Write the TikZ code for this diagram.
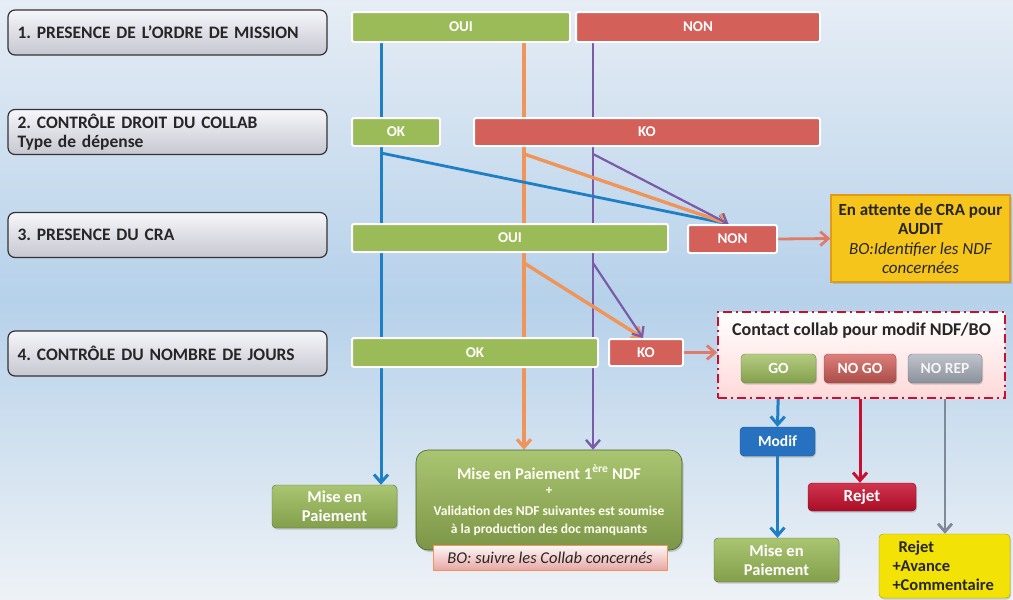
\documentclass[tikz,border=0pt]{standalone}
\usepackage{fontspec}
\setmainfont{Carlito}
\frenchspacing
\usetikzlibrary{arrows.meta,shadows,calc}
\pgfdeclarelayer{bg}\pgfdeclarelayer{lines}
\pgfsetlayers{bg,lines,main}
\definecolor{bgtop}{HTML}{E6EDF5}
\definecolor{bgmid}{HTML}{B6D1EA}
\definecolor{bgbot}{HTML}{EEF2F6}
\definecolor{cgreen}{HTML}{9BBB59}
\definecolor{cred}{HTML}{D4605A}
\definecolor{gray1}{HTML}{F6F6FA}
\definecolor{gray2}{HTML}{C6C7D0}
\definecolor{dkgray}{HTML}{333333}
\definecolor{cblue}{HTML}{1F7FC4}
\definecolor{corange}{HTML}{F0955A}
\definecolor{cpurple}{HTML}{7A5BA8}
\definecolor{csalmon}{HTML}{E07B6A}
\definecolor{cgrayl}{HTML}{7F8A99}
\definecolor{cdred}{HTML}{C8102E}
\definecolor{cyel}{HTML}{F6C51B}
\definecolor{cyelb}{HTML}{E39A1A}
\definecolor{cyel2}{HTML}{F2E205}
\definecolor{cmodif}{HTML}{2672C0}
\definecolor{cnorep}{HTML}{A3AAB6}
\tikzset{
  stepq/.style={draw=dkgray, line width=1.2pt, rounded corners=7pt,
    top color=gray1, bottom color=gray2, minimum height=45pt, minimum width=319pt,
    text width=300pt, align=left, inner sep=0pt,
    font=\bfseries\fontsize{17.5}{19}\selectfont, text=black!85},
  ans/.style={draw=white, line width=2pt, rounded corners=2pt, text=white,
    font=\bfseries\fontsize{15}{17}\selectfont, inner sep=0pt,
    drop shadow={opacity=0.25, shadow xshift=1pt, shadow yshift=-1pt}},
  gbox/.style={ans, fill=cgreen},
  rbox/.style={ans, fill=cred},
  btn/.style={rounded corners=4pt, inner sep=0pt, text=white,
    font=\bfseries\fontsize{15.5}{17}\selectfont, minimum height=29pt,
    drop shadow={opacity=0.35, shadow xshift=1pt, shadow yshift=-1.5pt}},
  tip/.style={-{Straight Barb[length=8pt,width=14pt]}},
  ln/.style={line width=2.8pt, tip},
}
\begin{document}
\begin{tikzpicture}[x=1pt,y=-1pt]
\useasboundingbox (0,0) rectangle (1013,600);
\begin{pgfonlayer}{bg}
\fill[top color=bgtop, bottom color=bgmid] (0,0) rectangle (1013,300);
\fill[top color=bgmid, bottom color=bgbot] (0,300) rectangle (1013,600);
\end{pgfonlayer}

% question boxes
\node[stepq] (q1) at (167.5,32.5) {1. PRESENCE DE L'ORDRE DE MISSION};
\node[stepq] (q2) at (167.5,132) {2. CONTRÔLE DROIT DU COLLAB\\Type de dépense};
\node[stepq] (q3) at (167.5,235) {3. PRESENCE DU CRA};
\node[stepq] (q4) at (167.5,353.5) {4. CONTRÔLE DU NOMBRE DE JOURS};

% answers
\node[gbox, minimum width=218pt, minimum height=30pt] (oui1) at (461,27) {OUI};
\node[rbox, minimum width=244pt, minimum height=30pt] (non1) at (698,27) {NON};
\node[gbox, minimum width=88pt, minimum height=28pt] (ok2) at (396,132) {OK};
\node[rbox, minimum width=346pt, minimum height=28pt] (ko2) at (647,132) {KO};
\node[gbox, minimum width=316pt, minimum height=28pt] (oui3) at (510,238) {OUI};
\node[rbox, minimum width=89pt, minimum height=28pt] (non3) at (732.5,239) {NON};
\node[gbox, minimum width=246pt, minimum height=29pt] (ok4) at (475,352.5) {OK};
\node[rbox, minimum width=74pt, minimum height=27pt] (ko4) at (646,352.5) {KO};

% yellow audit box
\node[draw=cyelb, line width=1.2pt, fill=cyel, minimum width=179pt, minimum height=87pt,
  inner sep=0pt, align=center, font=\fontsize{17}{19.5}\selectfont, text=black!85,
  drop shadow={opacity=0.3, shadow xshift=1.5pt, shadow yshift=-1.5pt}] (audit) at (920.5,238.5)
  {\textbf{En attente de CRA pour}\\\textbf{AUDIT}\\\textit{BO:Identifier les NDF}\\\textit{concernées}};

% contact box
\node[draw=cdred, line width=2pt, dash pattern=on 9pt off 4pt on 2pt off 4pt,
  top color=white, bottom color=pink!60!white, minimum width=287pt, minimum height=86pt,
  inner sep=0pt] (contact) at (861.5,355) {};
\node[font=\bfseries\fontsize{18}{20}\selectfont, text=black!85, inner sep=0pt] (ctitle) at (861.5,331) {Contact collab pour modif NDF/BO};
\node[btn, top color=cgreen!75!white, bottom color=cgreen!85!black, draw=cgreen!70!black, minimum width=75pt] (go) at (778.5,368.5) {GO};
\node[btn, top color=cred!80!white, bottom color=cred!80!black, draw=cred!70!black, minimum width=72pt] (nogo) at (860,368.5) {NO GO};
\node[btn, top color=cnorep!70!white, bottom color=cnorep!85!black, draw=cnorep!70!black, minimum width=74pt, text=white!92!gray] (norep) at (945,368.5) {NO REP};

% outcome boxes
\node[btn, fill=cmodif, draw=cmodif!70!black, minimum width=75pt] (modif) at (777.5,441.5) {Modif};
\node[btn, top color=cgreen!85!white, bottom color=cgreen!85!black, draw=cgreen!60!black,
  minimum width=125pt, minimum height=43pt, align=center, font=\bfseries\fontsize{16.5}{19}\selectfont] (miseL) at (334.5,506.5) {Mise en\\Paiement};
\node[btn, top color=cgreen!85!white, bottom color=cgreen!85!black, draw=cgreen!60!black,
  minimum width=125pt, minimum height=44pt, align=center, font=\bfseries\fontsize{16.5}{19}\selectfont] (miseR) at (776.5,560) {Mise en\\Paiement};
\node[btn, top color=cdred!85!white, bottom color=cdred!85!black, draw=cdred!60!black,
  minimum width=108pt, minimum height=28pt, font=\bfseries\fontsize{17}{19}\selectfont] (rejet) at (862,497) {Rejet};
\node[btn, fill=cyel2, draw=cyel2!70!black, minimum width=131pt, minimum height=64pt,
  text=black!85, align=left, font=\bfseries\fontsize{16.5}{19}\selectfont, text width=104pt] (rejet2) at (944.5,566)
  {\hspace*{6pt}Rejet\\+Avance\\+Commentaire};
\node[rounded corners=12pt, top color=cgreen!85!white, bottom color=cgreen!80!black,
  draw=cgreen!50!black, line width=0.6pt, minimum width=266pt, minimum height=100pt, inner sep=0pt,
  drop shadow={opacity=0.35, shadow xshift=1.5pt, shadow yshift=-2pt}] (big) at (549,500) {};
\node[text=white!95!yellow, font=\bfseries\fontsize{16.5}{19}\selectfont, inner sep=0pt] (bigt1) at (549,472) {Mise en Paiement 1\textsuperscript{ère} NDF};
\node[text=white!95!yellow, font=\bfseries\fontsize{13}{15}\selectfont, inner sep=0pt] (bigt2) at (549,491) {+};
\node[text=white!95!yellow, font=\bfseries\fontsize{13.5}{18.5}\selectfont, inner sep=0pt, align=center] (bigt3) at (549,521) {Validation des NDF suivantes est soumise\\à la production des doc manquants};
\node[draw=corange, line width=1pt, top color=white!90!pink, bottom color=cred!55!white,
  minimum width=234pt, minimum height=25pt, inner sep=0pt, text=black!85,
  font=\itshape\fontsize{16.5}{18}\selectfont] (bosub) at (550,557.5) {BO: suivre les Collab concernés};

% guide x positions
\coordinate (xb) at (381,0);
\coordinate (xo) at (524,0);
\coordinate (xp) at (593,0);

\begin{pgfonlayer}{lines}
% verticals
\draw[ln, cblue, line width=3pt] (oui1.south -| xb) -- (miseL.north -| xb);
\draw[ln, corange, line width=3.2pt] (oui1.south -| xo) -- (big.north -| xo);
\draw[ln, cpurple, line width=2.4pt] (non1.south -| xp) -- (big.north -| xp);
% diagonals to NON (row 3)
\draw[ln, cblue] ($(ok2.south -| xb)+(0,6)$) -- ([xshift=-4pt]non3.north);
\draw[ln, corange, line width=3.4pt] ($(ko2.south -| xo)+(0,7)$) -- ([xshift=-4pt]non3.north);
\draw[ln, cpurple, line width=2.2pt] ($(ko2.south -| xp)+(0,7)$) -- ([xshift=-4pt]non3.north);
% diagonals to KO (row 4)
\draw[ln, corange, line width=3.4pt] ($(oui3.south -| xo)+(0,10)$) -- ([xshift=-3pt]ko4.north);
\draw[ln, cpurple, line width=2.2pt] ($(oui3.south -| xp)+(0,10)$) -- ([xshift=-3pt]ko4.north);
% side arrows
\draw[ln, csalmon] (non3.east) -- (audit.west);
\draw[ln, csalmon] (ko4.east) -- (contact.west |- ko4.east);
% contact outcomes
\draw[ln, cblue, line width=3pt] (go.south) -- (modif.north);
\draw[ln, cblue, line width=3pt] (modif.south) -- (miseR.north -| modif.south);
\draw[ln, cdred, line width=3pt] (nogo.south) -- (rejet.north -| nogo.south);
\draw[ln, cgrayl] (norep.south) -- (rejet2.north -| norep.south);
\end{pgfonlayer}
\end{tikzpicture}
\end{document}
